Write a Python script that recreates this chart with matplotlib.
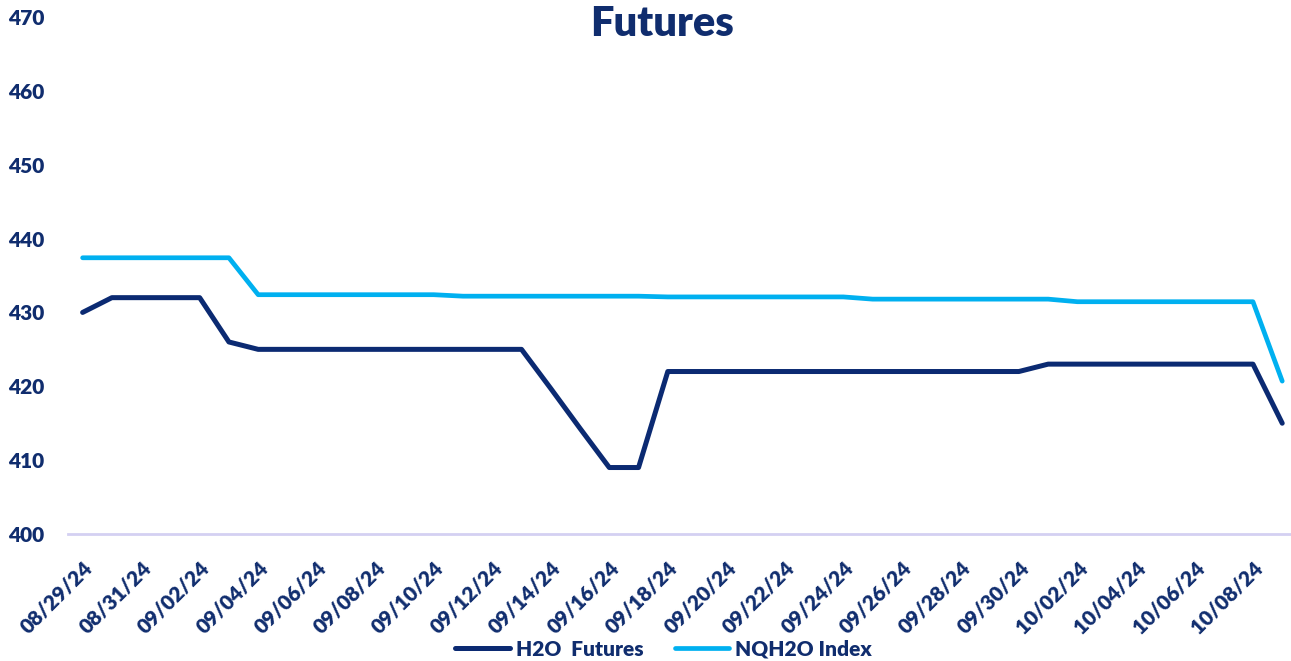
import matplotlib.pyplot as plt
import pandas as pd

plt.rcParams['font.family'] = ['Lato', 'DejaVu Sans']

dates = pd.date_range('2024-08-29', '2024-10-09', freq='D')
date_labels = [d.strftime('%m/%d/%y') for d in dates]

h2o_futures = [430, 432, 432, 432, 432, 426, 425, 425, 425, 425,
               425, 425, 425, 425, 425, 425, 419.7, 414.3, 409, 409,
               422, 422, 422, 422, 422, 422, 422, 422, 422, 422,
               422, 422, 422, 423, 423, 423, 423, 423, 423, 423,
               423, 415]
nqh2o_index = [437.4, 437.4, 437.4, 437.4, 437.4, 437.4, 432.4, 432.4, 432.4, 432.4,
               432.4, 432.4, 432.4, 432.2, 432.2, 432.2, 432.2, 432.2, 432.2, 432.2,
               432.1, 432.1, 432.1, 432.1, 432.1, 432.1, 432.1, 431.8, 431.8, 431.8,
               431.8, 431.8, 431.8, 431.8, 431.45, 431.45, 431.45, 431.45, 431.45, 431.45,
               431.45, 420.7]

navy = '#0B2A72'
light = '#00B0F0'
text_col = '#102D6E'

fig = plt.figure(figsize=(12.91, 6.61), dpi=100)
ax = fig.add_axes([68 / 1291, 1 - 534 / 661, 1 - 68 / 1291, (534 - 17) / 661])

xs = list(range(len(dates)))
ax.plot(xs, h2o_futures, color=navy, lw=3.6, solid_capstyle='round', label='H2O  Futures')
ax.plot(xs, nqh2o_index, color=light, lw=3.4, solid_capstyle='round', label='NQH2O Index')

ax.set_xlim(-0.5, 41.3)
ax.set_ylim(400, 470)
ax.set_yticks(range(400, 471, 10))
ax.set_xticks(xs[::2])
ax.set_xticklabels(date_labels[::2], rotation=45, ha='right', va='top',
                   rotation_mode='anchor')

for s in ['top', 'right', 'left']:
    ax.spines[s].set_visible(False)
ax.spines['bottom'].set_color('#D4D0F2')
ax.spines['bottom'].set_linewidth(2)
ax.tick_params(axis='both', length=0, colors=text_col, labelsize=15)
ax.tick_params(axis='y', pad=17)
ax.tick_params(axis='x', pad=17)
for lab in ax.get_xticklabels() + ax.get_yticklabels():
    lab.set_fontweight('heavy')

fig.text(0.513, 0.964, 'Futures', ha='center', va='center', fontsize=30,
         fontweight='heavy', color=text_col)

leg = fig.legend(loc='center', bbox_to_anchor=(0.514, 1 - 649 / 661), ncol=2,
                 frameon=False, handlelength=2.6, handletextpad=0.3,
                 columnspacing=1.5, prop={'size': 15, 'weight': 'heavy'})
for t in leg.get_texts():
    t.set_color(text_col)

fig.savefig('out.png', dpi=100)
